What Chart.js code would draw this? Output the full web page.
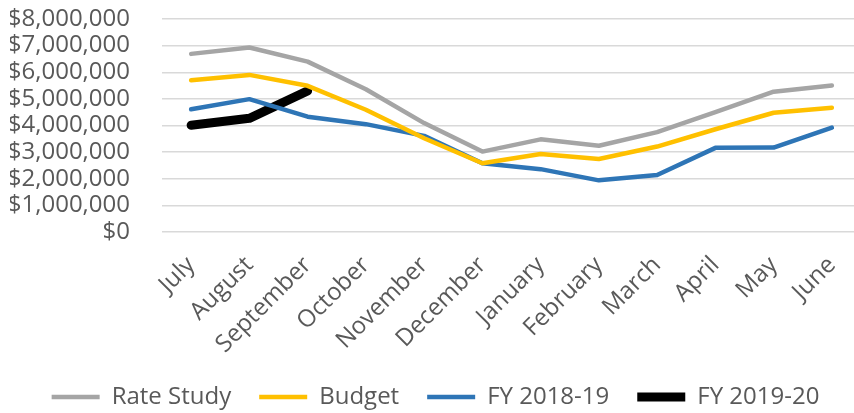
<!DOCTYPE html>
<html>
<head>
<meta charset="utf-8">
<script src="https://cdn.jsdelivr.net/npm/chart.js@4/dist/chart.umd.min.js"></script>
<style>
    html, body { margin: 0; padding: 0; overflow: hidden; background: #fff; }
    #wrap { width: 866px; height: 413px; }
</style>
</head>
<body>
<div id="wrap"><canvas id="myChart"></canvas></div>
<script>
var months = ["July", "August", "September", "October", "November", "December",
    "January", "February", "March", "April", "May", "June"];

// values, in dollars
var rateStudy = [6690000, 6930000, 6400000, 5360000, 4090000, 3020000,
    3480000, 3240000, 3750000, 4500000, 5270000, 5500000];
var budget = [5700000, 5900000, 5490000, 4590000, 3520000, 2580000,
    2930000, 2740000, 3210000, 3860000, 4480000, 4670000];
var fy1819 = [4610000, 4990000, 4330000, 4050000, 3610000, 2580000,
    2360000, 1940000, 2140000, 3160000, 3170000, 3920000];
var fy1920 = [4010000, 4270000, 5300000];

var textColor = "#595959";
var font = {family: "'Open Sans'", size: 24};

function money(v) {
    return "$" + Number(v).toLocaleString("en-US");
}

var ctx = document.getElementById("myChart");
var myChart = new Chart(ctx, {
    type: 'line',
    data: {
        labels: months,
        datasets: [{
                label: "Rate Study",
                data: rateStudy,
                borderColor: "#a5a5a5",
                backgroundColor: "#a5a5a5",
                borderWidth: 4.5
            }, {
                label: "Budget",
                data: budget,
                borderColor: "#ffc000",
                backgroundColor: "#ffc000",
                borderWidth: 4.5
            }, {
                label: "FY 2018-19",
                data: fy1819,
                borderColor: "#2e75b6",
                backgroundColor: "#2e75b6",
                borderWidth: 4.5
            }, {
                label: "FY 2019-20",
                data: fy1920,
                borderColor: "#000000",
                backgroundColor: "#000000",
                borderWidth: 9
            }]
    },
    options: {
        responsive: true,
        maintainAspectRatio: false,
        animation: false,
        layout: {padding: {left: 10, right: 5, top: 19, bottom: -6}},
        elements: {
            point: {radius: 0},
            line: {tension: 0, borderCapStyle: 'round', borderJoinStyle: 'round'}
        },
        scales: {
            x: {
                offset: true,
                grid: {display: false},
                border: {display: false},
                ticks: {color: textColor, font: font, minRotation: 45, maxRotation: 45, padding: 11},
                afterFit: function (scale) {
                    scale.height = 125;
                }
            },
            y: {
                min: 0,
                max: 8000000,
                grid: {color: "#d9d9d9", lineWidth: 1.5, drawTicks: false},
                border: {display: false},
                ticks: {color: textColor, font: font, stepSize: 1000000, autoSkip: false, padding: 32, callback: money},
                afterFit: function (scale) {
                    scale.width = 152;
                    scale.paddingTop = 0;
                    scale.paddingBottom = 0;
                }
            }
        },
        plugins: {
            legend: {
                position: 'bottom',
                labels: {
                    color: textColor,
                    font: font,
                    usePointStyle: true,
                    pointStyle: 'line',
                    pointStyleWidth: 48,
                    padding: 28
                }
            },
            tooltip: {enabled: false}
        }
    }
});
</script>
</body>
</html>
